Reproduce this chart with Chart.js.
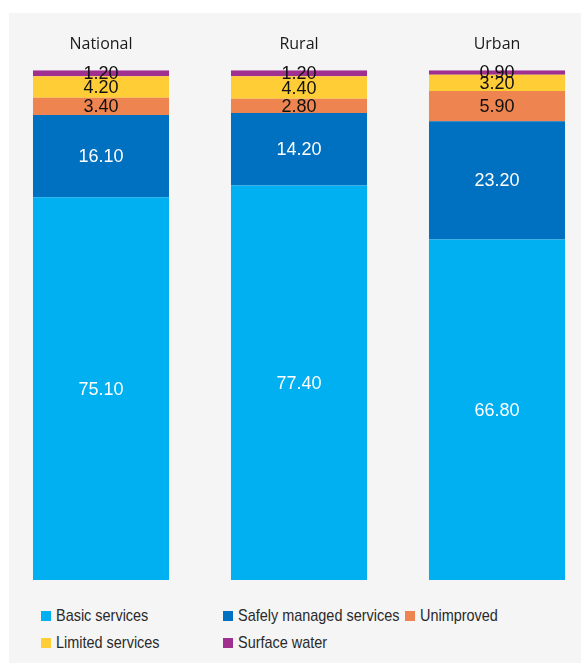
<!DOCTYPE html>
<html>
<head>
<meta charset="utf-8">
<script src="https://cdn.jsdelivr.net/npm/chart.js@4/dist/chart.umd.min.js"></script>
<style>
  html, body { margin: 0; padding: 0; background: #fff; overflow: hidden; }
  body { width: 581px; height: 663px; position: relative; }
  #panel { position: absolute; left: 9px; top: 13px; width: 572px; height: 650px; background: #F5F5F5; }
  #chart { position: absolute; left: 0; top: 0; }
  #legend {
    position: absolute; left: 41px; top: 606px;
    display: grid; grid-template-columns: 182px 182px 182px; row-gap: 7px;
    font-family: "Liberation Sans", Arial, sans-serif;
    font-size: 17px; color: #2a2a2a;
  }
  .item { display: flex; align-items: center; height: 20px; white-space: nowrap; }
  .box { width: 10px; height: 10px; margin-right: 5px; flex: none; }
  /* narrow face: Arial scaled like Arial Narrow */
  .txt { display: inline-block; transform: scaleX(0.85); transform-origin: left center; }
</style>
</head>
<body>
<div id="panel"></div>
<canvas id="chart" width="600" height="582"></canvas>
<div id="legend"></div>
<script>
// Access to drinking water, share of population (%)
const areas = ['National', 'Rural', 'Urban'];

const basicServices = [75.10, 77.40, 66.80];
const safelyManaged = [16.10, 14.20, 23.20];
const unimproved = [3.40, 2.80, 5.90];
const limitedServices = [4.20, 4.40, 3.20];
const surfaceWater = [1.20, 1.20, 0.90];

const seriesNames = ['Basic services', 'Safely managed services', 'Unimproved', 'Limited services', 'Surface water'];
const seriesColors = ['#00B0F0', '#0070C0', '#EE8450', '#FFCD36', '#A0308F'];
const labelColors = ['#ffffff', '#ffffff', '#111111', '#111111', '#111111'];

const seriesData = [basicServices, safelyManaged, unimproved, limitedServices, surfaceWater];

// values written in the middle of every segment
const segmentLabels = {
  id: 'segmentLabels',
  afterDatasetsDraw(chart) {
    const ctx = chart.ctx;
    ctx.save();
    ctx.font = '18px "Liberation Sans", Arial, sans-serif';
    ctx.textAlign = 'center';
    ctx.textBaseline = 'middle';
    chart.data.datasets.forEach((ds, i) => {
      const meta = chart.getDatasetMeta(i);
      ctx.fillStyle = labelColors[i];
      meta.data.forEach((bar, j) => {
        const cy = (bar.y + bar.base) / 2;
        ctx.fillText(ds.data[j].toFixed(2), bar.x, cy + 1);
      });
    });
    ctx.restore();
  },
};

const chart = new Chart(document.getElementById('chart'), {
  type: 'bar',
  data: {
    labels: areas,
    datasets: seriesNames.map((name, i) => ({
      label: name,
      data: seriesData[i],
      backgroundColor: seriesColors[i],
      borderWidth: 0,
      categoryPercentage: 1,
      barPercentage: 0.687,
    })),
  },
  options: {
    responsive: false,
    animation: false,
    layout: { padding: { top: 19, left: 2, right: 4, bottom: 2 } },
    plugins: {
      legend: { display: false },
      tooltip: { enabled: false },
    },
    scales: {
      x: {
        stacked: true,
        position: 'top',
        grid: { display: false, drawTicks: false },
        border: { display: false },
        ticks: {
          padding: 16,
          color: '#1a1a1a',
          font: { family: '"Open Sans", sans-serif', size: 16 },
        },
      },
      y: {
        stacked: true,
        display: false,
        min: 0,
        max: 100,
      },
    },
  },
  plugins: [segmentLabels],
});

// legend laid out in fixed columns
const legendEl = document.getElementById('legend');
chart.data.datasets.forEach((ds) => {
  const item = document.createElement('div');
  item.className = 'item';
  const box = document.createElement('span');
  box.className = 'box';
  box.style.background = ds.backgroundColor;
  const txt = document.createElement('span');
  txt.className = 'txt';
  txt.textContent = ds.label;
  item.appendChild(box);
  item.appendChild(txt);
  legendEl.appendChild(item);
});
</script>
</body>
</html>
